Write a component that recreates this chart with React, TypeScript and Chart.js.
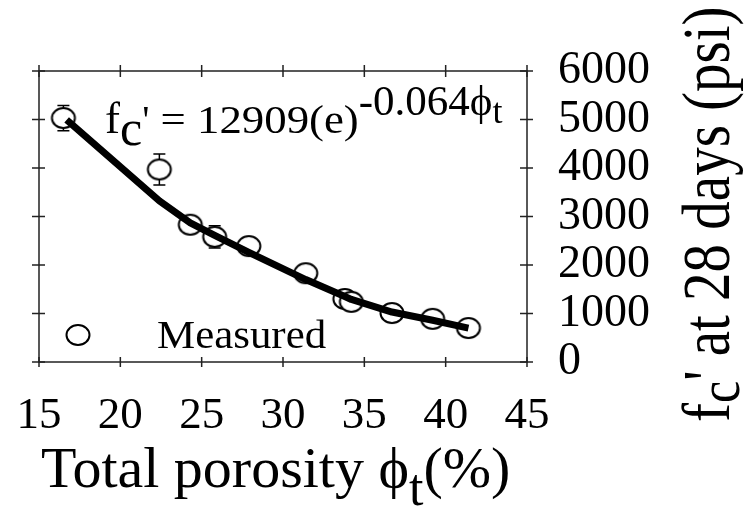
import React, { useEffect, useRef } from "react";
import { Chart, registerables } from "chart.js";

Chart.register(...registerables);

// ---------- data ----------
const porosity = [16.5, 22.4, 24.3, 25.8, 27.9, 31.4, 33.8, 34.2, 36.7, 39.2, 41.4];
const strength = [5030, 3970, 2830, 2580, 2390, 1830, 1300, 1240, 1010, 890, 700];
const strengthErr = [260, 320, 0, 230, 0, 0, 0, 0, 0, 0, 0];
const fitPorosity = [16.7, 22.4, 24.3, 25.8, 27.9, 31.4, 33.8, 34.2, 36.7, 39.2, 41.4];
const fitStrength = [4990, 3320, 2870, 2610, 2260, 1700, 1350, 1290, 1030, 860, 700];
const xTickValues = [15, 20, 25, 30, 35, 40, 45];
const yTickValues = [0, 1000, 2000, 3000, 4000, 5000, 6000];
const legendLabel = "Measured";

const FONT = "'Liberation Serif', 'Times New Roman', serif";
const PHI = "\u03D5";

type Run = { t: string; size: number; dy?: number; sx?: number };

function drawRuns(ctx: CanvasRenderingContext2D, runs: Run[], x: number, y: number) {
  let cx = x;
  for (const r of runs) {
    ctx.font = `${r.size}px ${FONT}`;
    const sx = r.sx ?? 1;
    const w = ctx.measureText(r.t).width * sx;
    ctx.save();
    ctx.translate(cx, y + (r.dy ?? 0));
    ctx.scale(sx, 1);
    ctx.fillText(r.t, 0, 0);
    ctx.restore();
    cx += w;
  }
}

function makeMarker(): HTMLCanvasElement {
  const c = document.createElement("canvas");
  c.width = 28;
  c.height = 24;
  const g = c.getContext("2d")!;
  g.beginPath();
  g.ellipse(14, 12, 11.5, 10, 0, 0, Math.PI * 2);
  g.fillStyle = "#ffffff";
  g.fill();
  g.lineWidth = 2;
  g.strokeStyle = "#000000";
  g.stroke();
  return c;
}

export default function App() {
  const ref = useRef<HTMLCanvasElement | null>(null);

  useEffect(() => {
    if (!ref.current) return;
    const marker = makeMarker();

    const errorBars = {
      id: "errorBars",
      beforeDatasetsDraw(chart: any) {
        const ctx = chart.ctx as CanvasRenderingContext2D;
        const xs = chart.scales.x;
        const ys = chart.scales.y;
        ctx.save();
        ctx.strokeStyle = "#000";
        ctx.lineWidth = 1.5;
        porosity.forEach((p, i) => {
          const e = strengthErr[i];
          if (!e) return;
          const px = xs.getPixelForValue(p);
          const y1 = ys.getPixelForValue(strength[i] + e);
          const y2 = ys.getPixelForValue(strength[i] - e);
          ctx.beginPath();
          ctx.moveTo(px, y1);
          ctx.lineTo(px, y2);
          ctx.moveTo(px - 6, y1);
          ctx.lineTo(px + 6, y1);
          ctx.moveTo(px - 6, y2);
          ctx.lineTo(px + 6, y2);
          ctx.stroke();
        });
        ctx.restore();
      },
    };

    const decor = {
      id: "decor",
      afterDraw(chart: any) {
        const ctx = chart.ctx as CanvasRenderingContext2D;
        const a = chart.chartArea;
        const xs = chart.scales.x;
        const ys = chart.scales.y;
        ctx.save();
        // frame
        ctx.strokeStyle = "#222";
        ctx.lineWidth = 1.5;
        ctx.strokeRect(a.left, a.top, a.right - a.left, a.bottom - a.top);
        // ticks crossing the frame
        ctx.beginPath();
        xs.ticks.forEach((t: any) => {
          const px = xs.getPixelForValue(t.value);
          ctx.moveTo(px, a.top - 6);
          ctx.lineTo(px, a.top + 6);
          ctx.moveTo(px, a.bottom - 5);
          ctx.lineTo(px, a.bottom + 5);
        });
        ys.ticks.forEach((t: any) => {
          const py = ys.getPixelForValue(t.value);
          ctx.moveTo(a.left - 7, py);
          ctx.lineTo(a.left + 6, py);
          ctx.moveTo(a.right - 7, py);
          ctx.lineTo(a.right + 6, py);
        });
        ctx.stroke();

        ctx.fillStyle = "#000";
        ctx.textAlign = "left";
        ctx.textBaseline = "alphabetic";

        // equation annotation
        drawRuns(
          ctx,
          [
            { t: "f", size: 45 },
            { t: "c", size: 50, dy: 12 },
            { t: "'", size: 40 },
            { t: " = 12909(e)", size: 40, sx: 1.12 },
            { t: "-0.064" + PHI, size: 43, dy: -18 },
            { t: "t", size: 36, dy: -10 },
          ],
          105,
          133
        );

        // legend
        ctx.drawImage(marker, 78 - 14, 335 - 12);
        drawRuns(ctx, [{ t: legendLabel, size: 39, sx: 1.1 }], 157, 348);

        // x title
        drawRuns(
          ctx,
          [
            { t: "Total porosity ", size: 58 },
            { t: PHI, size: 58 },
            { t: "t", size: 52, dy: 18 },
            { t: "(%)", size: 58 },
          ],
          41,
          487
        );

        // y title (rotated)
        ctx.save();
        ctx.translate(729, 422);
        ctx.rotate(-Math.PI / 2);
        ctx.scale(1, 1.2);
        drawRuns(
          ctx,
          [
            { t: "f", size: 57 },
            { t: "c", size: 50, dy: 8 },
            { t: "'", size: 57 },
            { t: " at 28 days (psi)", size: 57 },
          ],
          0,
          0
        );
        ctx.restore();

        ctx.restore();
      },
    };

    const chart = new Chart(ref.current, {
      type: "scatter",
      data: {
        datasets: [
          {
            type: "line",
            label: "fit",
            data: fitPorosity.map((x, i) => ({ x, y: fitStrength[i] })),
            borderColor: "#000",
            borderWidth: 7,
            pointRadius: 0,
            tension: 0,
            borderCapStyle: "butt",
            borderJoinStyle: "round",
            fill: false,
            order: 0,
          } as any,
          {
            type: "scatter",
            label: legendLabel,
            data: porosity.map((x, i) => ({ x, y: strength[i] })),
            pointStyle: marker as any,
            pointRadius: 11,
            order: 1,
          } as any,
        ],
      },
      options: {
        animation: false,
        responsive: false,
        devicePixelRatio: 1,
        events: [],
        layout: { padding: { left: 39, top: 71, right: 0, bottom: 0 } },
        plugins: {
          legend: { display: false },
          tooltip: { enabled: false },
        },
        scales: {
          x: {
            type: "linear",
            position: "bottom",
            min: 15,
            max: 45,
            afterBuildTicks: (s: any) => {
              s.ticks = xTickValues.map((v) => ({ value: v }));
            },
            afterFit: (s: any) => {
              s.height = 150;
            },
            grid: {
              display: true,
              drawOnChartArea: false,
              drawTicks: true,
              tickLength: 27,
              tickColor: "rgba(0,0,0,0)",
              color: "rgba(0,0,0,0)",
            },
            border: { display: false },
            ticks: {
              autoSkip: false,
              maxRotation: 0,
              padding: 0,
              color: "#000",
              font: { family: FONT, size: 45 },
            },
          },
          y: {
            type: "linear",
            position: "right",
            min: 0,
            max: 6000,
            afterBuildTicks: (s: any) => {
              s.ticks = yTickValues.map((v) => ({ value: v }));
            },
            afterFit: (s: any) => {
              s.width = 219;
            },
            grid: {
              display: true,
              drawOnChartArea: false,
              drawTicks: true,
              tickLength: 31,
              tickColor: "rgba(0,0,0,0)",
              color: "rgba(0,0,0,0)",
            },
            border: { display: false },
            ticks: {
              autoSkip: false,
              padding: 0,
              color: "#000",
              font: { family: FONT, size: 46 },
              callback: (v: any) => String(v),
            },
          },
        },
      },
      plugins: [errorBars, decor],
    });

    return () => chart.destroy();
  }, []);

  return (
    <div style={{ position: "absolute", left: 0, top: 0, width: 746, height: 512, background: "#fff" }}>
      <canvas ref={ref} width={746} height={512} style={{ display: "block" }} />
    </div>
  );
}
